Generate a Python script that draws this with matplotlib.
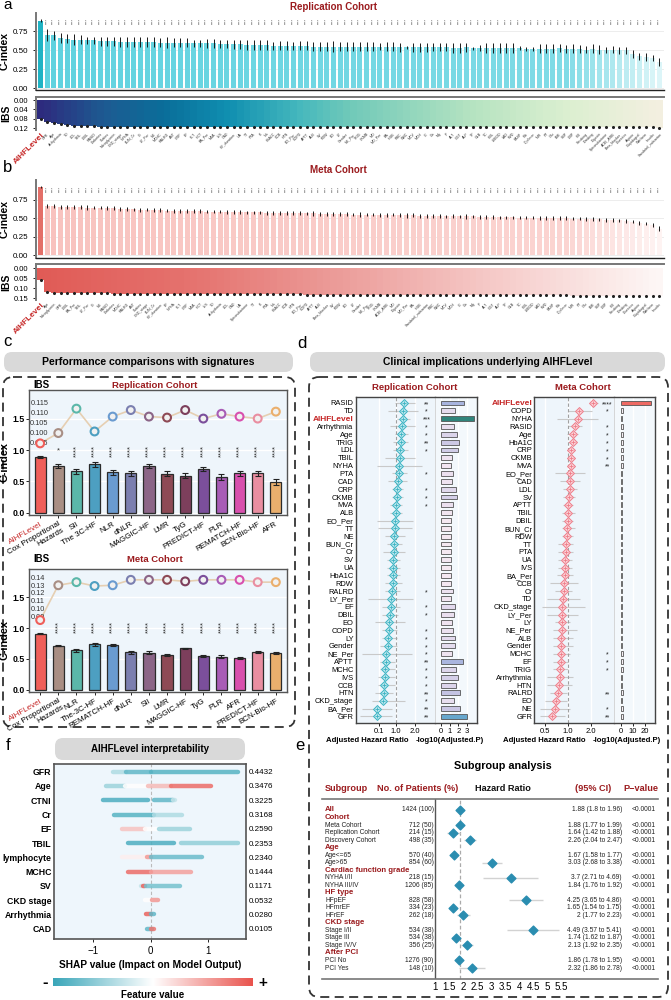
import numpy as np
import matplotlib
matplotlib.use("Agg")
import matplotlib.pyplot as plt
from matplotlib.colors import LinearSegmentedColormap
from matplotlib.patches import FancyBboxPatch

plt.rcParams['font.family'] = ['Liberation Sans', 'DejaVu Sans']
plt.rcParams['xtick.major.size'] = 2
plt.rcParams['ytick.major.size'] = 2
plt.rcParams['xtick.major.width'] = 0.6
plt.rcParams['ytick.major.width'] = 0.6
plt.rcParams['axes.unicode_minus'] = True

W, H = 671, 1000
DARKRED = '#9b1b1e'
AIHF_RED = '#c62828'

############################
## data: panels a and b   ##
############################
labels_a = ["AIHFLevel",
  "GFR","Age","Arrhythmia","TD","LDL","TBIL","DBIL","RASID","Diabetes","Statins",
  "Nitroglycerin","CKD_stage","NYHA","BUN_Cr","Cr","LY_Per","NE","MCHC","RALRD","AST",
  "CRP","EF","PLT","HCT","BA_Per","MVA","IVS","CAD","HF_duration","UA",
  "TT","PTA","K","Na","HbA1C","CCB","HTN","EO_Per","COPD","APTT",
  "ALB","SV","RDW","EO","LY","Gender","NE_Per","TRIG","CKMB","MO",
  "MO_Per","BA","HGB","RBC","WBC","MCV","MCH","Cl","Ca","Mg",
  "P","ALT","GGT","ALP","TP","GLB","TC","HDL","LVEDD","LAD",
  "RVD","PASP","Fib","D_dimer","INR","PT","Glu","BMI","SBP","DBP",
  "HR","Smoking","Drinking","Digoxin","Spironolactone","ACEI_ARB","Beta_blocker","Diuretics","Aspirin","Clopidogrel",
  "Warfarin","Insulin","Sacubitril_valsartan"]
cindex_a = [0.89, 0.70, 0.70, 0.66, 0.65, 0.64, 0.64, 0.63, 0.63, 0.62,
            0.62, 0.62, 0.61, 0.61, 0.61, 0.61, 0.61, 0.61, 0.60, 0.60,
            0.60, 0.60, 0.60, 0.59, 0.59, 0.59, 0.59, 0.58, 0.58, 0.58,
            0.58, 0.57, 0.57, 0.57, 0.57, 0.56, 0.56, 0.56, 0.56, 0.56,
            0.56, 0.55, 0.55, 0.55, 0.55, 0.55, 0.55, 0.55, 0.55, 0.55,
            0.55, 0.55, 0.55, 0.55, 0.54, 0.54, 0.54, 0.54, 0.54, 0.54,
            0.54, 0.54, 0.53, 0.53, 0.54, 0.53, 0.53, 0.53, 0.53, 0.53,
            0.53, 0.53, 0.53, 0.52, 0.52, 0.52, 0.52, 0.52, 0.53, 0.52,
            0.52, 0.52, 0.51, 0.52, 0.51, 0.51, 0.51, 0.50, 0.50, 0.45,
            0.42, 0.41, 0.40, 0.35]
err_a = [0.02, 0.08, 0.06, 0.07, 0.06, 0.07, 0.06, 0.05, 0.05, 0.06,
         0.06, 0.06, 0.07, 0.07, 0.07, 0.06, 0.06, 0.06, 0.06, 0.07,
         0.06, 0.06, 0.06, 0.05, 0.05, 0.06, 0.06, 0.05, 0.05, 0.06,
         0.06, 0.06, 0.06, 0.06, 0.06, 0.05, 0.06, 0.06, 0.05, 0.06,
         0.06, 0.06, 0.06, 0.06, 0.07, 0.06, 0.06, 0.06, 0.06, 0.06,
         0.06, 0.05, 0.06, 0.06, 0.06, 0.02, 0.06, 0.06, 0.06, 0.05,
         0.05, 0.05, 0.06, 0.06, 0.06, 0.02, 0.04, 0.06, 0.06, 0.06,
         0.06, 0.06, 0.03, 0.03, 0.03, 0.06, 0.06, 0.06, 0.05, 0.05,
         0.06, 0.05, 0.05, 0.06, 0.06, 0.04, 0.05, 0.05, 0.05, 0.05,
         0.05, 0.05, 0.04, 0.05]
ibs_a = [0.082, 0.092, 0.096, 0.102, 0.106, 0.109, 0.110, 0.112, 0.112, 0.113,
         0.113, 0.113, 0.113, 0.113, 0.113, 0.114, 0.114, 0.114, 0.114, 0.114,
         0.114, 0.114, 0.114, 0.114, 0.114, 0.114, 0.114, 0.115, 0.115, 0.115,
         0.115, 0.115, 0.115, 0.115, 0.115, 0.115, 0.115, 0.115, 0.115, 0.115,
         0.115, 0.115, 0.115, 0.115, 0.115, 0.115, 0.115, 0.115, 0.115, 0.115,
         0.115, 0.115, 0.115, 0.115, 0.115, 0.115, 0.115, 0.116, 0.116, 0.116,
         0.116, 0.116, 0.116, 0.116, 0.116, 0.116, 0.116, 0.116, 0.116, 0.116,
         0.116, 0.116, 0.116, 0.116, 0.116, 0.116, 0.116, 0.116, 0.116, 0.116,
         0.116, 0.116, 0.116, 0.116, 0.116, 0.116, 0.116, 0.116, 0.116, 0.116,
         0.116, 0.116, 0.116, 0.117]

labels_b = ["AIHFLevel",
  "Age","Nitroglycerin","GFR","DBIL","BA_Per","TBIL","LY_Per","Cr","NE","RASID",
  "Diabetes","MCHC","RALRD","AST","Statins","CKD_stage","BUN_Cr","HF_duration","EF","NYHA",
  "PLT","CRP","MVA","HCT","IVS","TD","Arrhythmia","LDL","CAD","UA",
  "Spironolactone","TT","K","PTA","Na","HbA1C","CCB","HTN","EO_Per","COPD",
  "APTT","ALB","Beta_blocker","SV","RDW","EO","LY","Gender","NE_Per","TRIG",
  "CKMB","ACEI_ARB","MO","Digoxin","MO_Per","BA","HGB","Sacubitril_valsartan","RBC","WBC",
  "MCV","MCH","Cl","Ca","Mg","P","ALT","GGT","ALP","TP",
  "GLB","TC","HDL","LVEDD","LAD","RVD","PASP","Fib","D_dimer","INR",
  "PT","Glu","BMI","SBP","DBP","HR","Smoking","Drinking","Diuretics","Aspirin",
  "Clopidogrel","Warfarin","Insulin"]
cindex_b = [0.92, 0.67, 0.67, 0.655, 0.655, 0.65, 0.65, 0.645, 0.645, 0.645,
            0.64, 0.635, 0.63, 0.63, 0.62, 0.615, 0.615, 0.61, 0.61, 0.605,
            0.60, 0.60, 0.60, 0.595, 0.595, 0.59, 0.59, 0.59, 0.585, 0.585,
            0.585, 0.58, 0.58, 0.58, 0.575, 0.575, 0.575, 0.57, 0.57, 0.57,
            0.565, 0.565, 0.56, 0.56, 0.56, 0.555, 0.555, 0.55, 0.55, 0.55,
            0.55, 0.545, 0.545, 0.545, 0.54, 0.54, 0.54, 0.535, 0.535, 0.535,
            0.53, 0.53, 0.53, 0.525, 0.525, 0.525, 0.52, 0.52, 0.52, 0.515,
            0.515, 0.515, 0.51, 0.51, 0.51, 0.505, 0.505, 0.50, 0.50, 0.50,
            0.495, 0.495, 0.49, 0.49, 0.485, 0.48, 0.475, 0.47, 0.465, 0.455,
            0.44, 0.427, 0.41, 0.36]
err_b = [0.015, 0.03, 0.025, 0.025, 0.025, 0.025, 0.025, 0.03, 0.025, 0.025,
         0.025, 0.025, 0.025, 0.025, 0.025, 0.025, 0.02, 0.03, 0.025, 0.025,
         0.025, 0.025, 0.025, 0.025, 0.03, 0.025, 0.025, 0.025, 0.025, 0.025,
         0.025, 0.025, 0.025, 0.025, 0.03, 0.025, 0.025, 0.025, 0.025, 0.025,
         0.025, 0.03, 0.025, 0.025, 0.025, 0.025, 0.025, 0.025, 0.03, 0.025,
         0.025, 0.025, 0.025, 0.02, 0.025, 0.03, 0.025, 0.025, 0.025, 0.025,
         0.025, 0.02, 0.025, 0.025, 0.03, 0.025, 0.025, 0.025, 0.025, 0.02,
         0.02, 0.02, 0.025, 0.015, 0.025, 0.025, 0.03, 0.03, 0.025, 0.025,
         0.025, 0.025, 0.03, 0.025, 0.025, 0.025, 0.025, 0.025, 0.025, 0.025,
         0.025, 0.025, 0.025, 0.03]
ibs_b = [0.058, 0.118, 0.121, 0.122, 0.123, 0.124, 0.124, 0.125, 0.125, 0.125,
         0.125, 0.126, 0.126, 0.126, 0.126, 0.126, 0.127, 0.127, 0.127, 0.127,
         0.127, 0.127, 0.128, 0.128, 0.128, 0.128, 0.128, 0.128, 0.129, 0.129,
         0.129, 0.129, 0.129, 0.129, 0.130, 0.130, 0.130, 0.130, 0.130, 0.130,
         0.131, 0.131, 0.131, 0.131, 0.131, 0.131, 0.132, 0.132, 0.132, 0.132,
         0.132, 0.132, 0.132, 0.133, 0.133, 0.133, 0.133, 0.133, 0.133, 0.133,
         0.134, 0.134, 0.134, 0.134, 0.134, 0.134, 0.134, 0.134, 0.135, 0.135,
         0.135, 0.135, 0.135, 0.135, 0.135, 0.135, 0.135, 0.135, 0.135, 0.135,
         0.136, 0.136, 0.136, 0.136, 0.136, 0.136, 0.136, 0.136, 0.136, 0.136,
         0.136, 0.136, 0.136, 0.136]

############################
## data: panel c          ##
############################
sig_rep = ["AIHFLevel", "Cox Proportional\nHazards", "SII", "The 3C-HF", "NLR", "dNLR", "MAGGIC-HF",
           "LMR", "TyG", "PREDICT-HF", "PLR", "REMATCH-HF", "BCN-Bio-HF", "AFR"]
cidx_rep = [0.895, 0.747, 0.663, 0.774, 0.642, 0.632, 0.742, 0.621, 0.589, 0.695, 0.568, 0.632, 0.626, 0.484]
cerr_rep = [0.015, 0.03, 0.04, 0.04, 0.04, 0.04, 0.035, 0.04, 0.04, 0.035, 0.045, 0.04, 0.045, 0.045]
cibs_rep = [0.0945, 0.0997, 0.112, 0.1005, 0.108, 0.1113, 0.108, 0.1075, 0.1113, 0.107, 0.1094, 0.108, 0.107, 0.1105]
stars_rep = ["", "*", "****", "****", "****", "****", "****", "****", "****", "****", "****", "****", "****", "****"]

sig_meta = ["AIHFLevel", "Cox Proportional\nHazards", "NLR", "The-3C-HF", "REMATCH-HF", "dNLR", "SII",
            "LMR", "MAGGIC-HF", "TyG", "PLR", "AFR", "PREDICT-HF", "BCN-Bio-HF"]
cidx_meta = [0.91, 0.715, 0.636, 0.736, 0.726, 0.605, 0.60, 0.563, 0.668, 0.542, 0.537, 0.51, 0.61, 0.594]
cerr_meta = [0.01, 0.015, 0.02, 0.02, 0.02, 0.02, 0.02, 0.02, 0.015, 0.02, 0.02, 0.02, 0.015, 0.015]
cibs_meta = [0.085, 0.130, 0.134, 0.129, 0.130, 0.137, 0.137, 0.137, 0.135, 0.137, 0.137, 0.137, 0.134, 0.134]
stars_meta = ["", "****", "****", "****", "****", "****", "****", "****", "****", "****", "****", "****", "****", "****"]

sig_colors = ['#ef5f5a', '#a88e84', '#5bb7a9', '#4d9fc1', '#6a9bd0', '#7b7fb0', '#8b6587',
              '#8e4a55', '#7d3f5c', '#7b4f9b', '#a85cb6', '#d850ae', '#e98ea1', '#eaaf6d']

############################
## data: panel d          ##
############################
rep_vars = ["RASID","TD","AIHFLevel","Arrhythmia","Age","TRIG","LDL","TBIL","NYHA","PTA",
            "CAD","CRP","CKMB","MVA","ALB","EO_Per","TT","NE","BUN_Cr","Cr",
            "SV","UA","HbA1C","RDW","RALRD","LY_Per","EF","DBIL","EO","COPD",
            "LY","Gender","NE_Per","APTT","MCHC","IVS","CCB","HTN","CKD_stage","BA_Per",
            "GFR"]
rep_hr = [1.46, 1.40, 1.40, 1.32, 1.28, 1.26, 1.25, 1.23, 1.19, 1.18,
          1.10, 1.09, 1.07, 1.02, 1.00, 0.98, 0.96, 0.93, 0.89, 0.89,
          0.88, 0.88, 0.88, 0.86, 0.79, 0.75, 0.74, 0.68, 0.67, 0.65,
          0.61, 0.58, 0.49, 0.47, 0.46, 0.44, 0.40, 0.37, 0.32, 0.03,
          0.01]
rep_lo = [0.965, 0.614, 1.05, 0.70, 0.965, 0.877, 0.877, 0.44, 0.0, 0.79,
          0.614, 0.79, 0.79, 0.70, 0.70, 0.0, 0.088, 0.44, 0.526, 0.35,
          0.526, 0.526, 0.526, 0.44, 0.44, -0.44, 0.263, 0.263, -0.088, 0.263,
          0.263, 0.175, -0.79, 0.175, 0.175, 0.088, 0.088, -0.088, -0.26, -0.79,
          -0.877]
rep_hi = [2.02, 2.19, 1.754, 2.02, 1.667, 1.667, 1.63, 2.02, 2.37, 1.58,
          1.58, 1.40, 1.40, 1.316, 1.316, 1.93, 1.842, 1.49, 1.316, 1.49,
          1.228, 1.228, 1.228, 1.316, 1.228, 1.93, 1.228, 1.14, 1.49, 1.05,
          1.05, 1.05, 1.842, 0.965, 0.965, 0.965, 0.965, 0.877, 1.5, 0.79,
          0.79]
rep_stars = ["**","*","***","*","*","**","*","","","*",
             "","*","*","*","","","","","","",
             "","","","","*","","*","*","","*",
             "*","*","*","**","*","*","*","**","*","**",
             "**"]
rep_logp = [2.6, 1.6, 3.8, 1.5, 1.8, 2.1, 2.0, 1.3, 1.2, 1.4,
            1.3, 1.7, 1.9, 1.4, 1.23, 1.1, 1.1, 1.1, 1.1, 1.1,
            1.15, 1.1, 1.1, 1.1, 1.35, 1.2, 1.65, 1.46, 1.3, 1.42,
            1.65, 1.6, 1.3, 2.58, 1.77, 1.92, 1.77, 2.23, 1.5, 2.15,
            3.0]

meta_vars = ["AIHFLevel","COPD","NYHA","RASID","Age","HbA1C","CRP","CKMB","MVA","EO_Per",
             "CAD","LDL","SV","APTT","TBIL","DBIL","BUN_Cr","RDW","TT","PTA",
             "UA","IVS","BA_Per","CCB","Cr","TD","CKD_stage","LY_Per","LY","NE_Per",
             "ALB","Gender","MCHC","EF","TRIG","Arrhythmia","HTN","RALRD","EO","NE",
             "GFR"]
meta_hr = [2.14, 1.39, 1.34, 1.23, 1.15, 1.15, 1.08, 1.08, 1.08, 1.06,
           1.05, 1.05, 1.04, 1.01, 1.00, 0.99, 0.98, 0.98, 0.94, 0.94,
           0.91, 0.905, 0.905, 0.89, 0.88, 0.87, 0.84, 0.83, 0.83, 0.83,
           0.82, 0.82, 0.81, 0.80, 0.79, 0.78, 0.77, 0.73, 0.70, 0.68,
           0.61]
meta_lo = [1.90, 1.01, 0.71, 1.01, 0.96, 1.01, 0.96, 0.96, 0.96, 0.68,
           0.79, 0.87, 0.87, 0.87, 0.826, 0.826, 0.826, 0.826, 0.747, 0.747,
           0.747, 0.747, 0.71, 0.58, 0.676, 0.526, 0.45, 0.526, 0.676, 0.64,
           0.64, 0.64, 0.64, 0.64, 0.64, 0.526, 0.526, 0.58, 0.50, 0.43,
           0.43]
meta_hi = [2.49, 2.04, 2.49, 1.51, 1.36, 1.30, 1.23, 1.23, 1.23, 1.67,
           1.43, 1.30, 1.23, 1.17, 1.23, 1.17, 1.23, 1.17, 1.17, 1.17,
           1.12, 1.12, 1.17, 1.36, 1.12, 1.43, 1.67, 1.36, 1.06, 1.30,
           1.17, 1.17, 1.06, 1.01, 1.01, 1.17, 1.12, 0.96, 0.96, 1.06,
           0.91]
meta_stars = ["****","*","","*","*","*","*","*","**","",
              "","","","","","","","","","",
              "","","","","","","","","","",
              "","","*","*","*","","","**","","*",
              "**"]
meta_logp = [25, 1.8, 0.8, 1.8, 1.7, 1.7, 1.7, 1.7, 2.2, 0.7,
             0.7, 0.7, 0.7, 0.7, 0.7, 0.7, 0.7, 0.7, 0.7, 0.7,
             0.7, 0.7, 0.7, 0.7, 0.7, 0.7, 0.7, 0.7, 0.7, 0.7,
             0.7, 0.7, 1.6, 1.6, 1.6, 0.7, 0.7, 2.2, 0.8, 1.8,
             2.2]

############################
## data: panel e          ##
############################
sub_labels = ["All", "Cohort", "Meta Cohort", "Replication Cohort", "Discovery Cohort",
              "Age", "Age<=65", "Age>65", "Cardiac function grade", "NYHA I/II", "NYHA III/IV",
              "HF type", "HFpEF", "HFmrEF", "HFrEF", "CKD stage", "Stage I/II", "Stage III",
              "Stage IV/V", "After PCI", "PCI No", "PCI Yes"]
sub_header = [True, True, False, False, False, True, False, False, True, False, False,
              True, False, False, False, True, False, False, False, True, False, False]
sub_n = ["1424 (100)", "", "712 (50)", "214 (15)", "498 (35)", "", "570 (40)", "854 (60)", "",
         "218 (15)", "1206 (85)", "", "828 (58)", "334 (23)", "262 (18)", "", "534 (38)",
         "534 (38)", "356 (25)", "", "1276 (90)", "148 (10)"]
nan = float('nan')
sub_hr = [1.88, nan, 1.88, 1.64, 2.26, nan, 1.67, 3.03, nan, 3.7, 1.84, nan, 4.25, 1.65, 2.0,
          nan, 4.49, 1.74, 2.13, nan, 1.86, 2.32]
sub_lo = [1.8, nan, 1.77, 1.42, 2.04, nan, 1.58, 2.68, nan, 2.71, 1.76, nan, 3.65, 1.54, 1.77,
          nan, 3.57, 1.62, 1.92, nan, 1.78, 1.86]
sub_hi = [1.96, nan, 1.99, 1.88, 2.47, nan, 1.77, 3.38, nan, 4.69, 1.92, nan, 4.86, 1.75, 2.23,
          nan, 5.41, 1.87, 2.35, nan, 1.95, 2.78]
sub_ticks = [1, 1.5, 2, 2.5, 3, 3.5, 4, 4.5, 5, 5.5]

############################
## data: panel f          ##
############################
shap_features = ["GFR", "Age", "CTNI", "Cr", "EF", "TBIL", "lymphocyte", "MCHC", "SV",
                 "CKD stage", "Arrhythmia", "CAD"]
shap_importance = ["0.4432", "0.3476", "0.3225", "0.3168", "0.2590", "0.2353", "0.2340",
                   "0.1444", "0.1171", "0.0532", "0.0280", "0.0105"]
# streaks of points per feature: row, start, end, feature value (-1 low .. +1 high)
shap_row = [0, 0, 0, 1, 1, 1, 1, 2, 2, 2, 3, 3, 4, 4, 4, 5, 5, 6, 6, 6, 7, 7, 8, 8, 8, 9, 9, 10, 10, 11, 11]
shap_x0 = [-0.65, -0.42, 0.0, -0.77, -0.45, -0.05, 0.35, -0.82, 0.05, 0.38, -0.64, 0.05,
           -0.50, -0.10, 0.15, -0.39, 0.52, -0.50, -0.06, 0.0, -0.39, 0.0, -0.16, -0.14, -0.08,
           -0.10, 0.02, -0.08, 0.0, -0.07, 0.0]
shap_x1 = [-0.42, 0.0, 1.52, -0.45, -0.05, 0.35, 1.04, -0.04, 0.38, 0.42, 0.05, 0.55,
           -0.10, 0.15, 0.68, 0.40, 1.52, -0.06, 0.0, 0.88, 0.0, 0.70, -0.10, -0.10, 0.50,
           0.0, 0.12, 0.0, 0.06, 0.02, 0.05]
shap_val = [-0.4, -0.8, -0.85, -0.5, 0.0, 0.4, 0.85, -0.9, -0.8, -0.3, -0.85, -0.4,
            0.35, 0.0, -0.5, -0.9, -0.55, 0.1, 0.6, -0.75, 0.85, 0.55, -0.3, 0.9, -0.7,
            0.0, 0.6, 0.9, -0.8, -0.8, 0.8]


fig = plt.figure(figsize=(6.71, 10), dpi=100)


def px_axes(x0, y0, x1, y1):
  return fig.add_axes([x0 / W, 1 - y1 / H, (x1 - x0) / W, (y1 - y0) / H])


# background layer in pixel units for boxes, headers and free text
bg = fig.add_axes([0, 0, 1, 1])
bg.set_xlim(0, W)
bg.set_ylim(H, 0)
bg.axis('off')


def header(x, y, w, h, text, size):
  bg.add_patch(FancyBboxPatch((x, y), w, h, boxstyle='round,pad=0,rounding_size=8',
                              fc='#d9d9d9', ec='none'))
  bg.text(x + w / 2, y + h / 2, text, ha='center', va='center', fontsize=size, fontweight='bold')


def dashed_box(x, y, w, h):
  bg.add_patch(FancyBboxPatch((x, y), w, h, boxstyle='round,pad=0,rounding_size=10',
                              fill=False, ec='#333333', lw=1.3, ls=(0, (5, 3))))


#######################################
## a / b : all variables per cohort  ##
#######################################
def cohort_panel(ax_c, ax_i, names, cidx, err, ibs, first_color, bar_cmap, ibs_cmap,
                 c_lim, i_lim, i_ticks, i_labels, star_y):
  n = len(cidx)
  x = np.arange(n)
  cols = [first_color] + [bar_cmap(i / (n - 1)) for i in range(1, n)]
  ax_c.grid(axis='y', color='#e6e6e6', lw=0.5)
  ax_c.set_axisbelow(True)
  ax_c.bar(x, cidx, width=0.75, color=cols, zorder=2)
  ax_c.errorbar(x, cidx, yerr=err, fmt='none', ecolor='#1a1a1a', elinewidth=0.7, zorder=3)
  for xi in x[1:]:
    ax_c.text(xi, star_y, '****', rotation=90, ha='center', va='center', fontsize=2.8, color='#444444')
  ax_c.set_xlim(-0.7, n - 0.3)
  ax_c.set_ylim(*c_lim)
  ax_c.set_yticks([0, 0.25, 0.5, 0.75])
  ax_c.set_yticklabels(['0.00', '0.25', '0.50', '0.75'], fontsize=5.8)
  ax_c.set_xticks([])
  ax_c.set_ylabel('C-index', fontsize=7.5, fontweight='bold', labelpad=2)
  for s in ['top', 'right']:
    ax_c.spines[s].set_visible(False)
  ax_c.spines['left'].set_color('#777777')
  ax_c.spines['left'].set_linewidth(1.4)
  ax_c.spines['bottom'].set_color('#222222')
  ax_c.spines['bottom'].set_linewidth(1.0)

  ax_i.bar(x, ibs, width=1.0, color=[ibs_cmap(i / (n - 1)) for i in x], linewidth=0)
  ax_i.scatter(x, ibs, s=1.5, color='#222222', zorder=3)
  ax_i.set_xlim(-0.7, n - 0.3)
  ax_i.set_ylim(*i_lim)
  ax_i.set_yticks(i_ticks)
  ax_i.set_yticklabels(i_labels, fontsize=5.5)
  ax_i.set_ylabel('IBS', fontsize=7.5, fontweight='bold', labelpad=2)
  ax_i.set_xticks(x)
  ax_i.set_xticklabels(names, rotation=45, ha='right', rotation_mode='anchor', fontsize=2.6, color='#333333')
  ax_i.tick_params(axis='x', length=0, pad=1.5)
  lb = ax_i.get_xticklabels()[0]
  lb.set_color(AIHF_RED)
  lb.set_fontsize(6)
  lb.set_fontweight('bold')
  for s in ['bottom', 'right']:
    ax_i.spines[s].set_visible(False)
  for s in ['top', 'left']:
    ax_i.spines[s].set_color('#777777')
    ax_i.spines[s].set_linewidth(1.4)


teal_bars = LinearSegmentedColormap.from_list('tb', [(0, '#5fd2df'), (0.85, '#80dbe6'), (1, '#dcf5f8')])
ibs_teal = LinearSegmentedColormap.from_list('it', [(0, '#2d2b7e'), (0.1, '#1d5a91'), (0.2, '#0a6e9a'),
                                                    (0.3, '#0f8eb0'), (0.42, '#46b8bd'), (0.5, '#70c9b9'),
                                                    (0.7, '#b6e3c1'), (0.85, '#dbefd0'), (1, '#f3efe0')])
pink_bars = LinearSegmentedColormap.from_list('pb', [(0, '#f8c2be'), (0.85, '#fbd4d1'), (1, '#fef3f2')])
ibs_red = LinearSegmentedColormap.from_list('ir', [(0, '#e05b56'), (0.25, '#e5736f'), (0.47, '#eb9a97'),
                                                   (0.75, '#f6cdcb'), (1, '#fdf6f5')])

ax_ca = px_axes(36, 13, 664, 90)
ax_ia = px_axes(36, 97, 664, 130)
cohort_panel(ax_ca, ax_ia, labels_a, cindex_a, err_a, ibs_a, '#1fb3c4', teal_bars, ibs_teal,
             (-0.02, 0.99), (0.127, -0.013), [0, 0.04, 0.08, 0.12], ['0.00', '0.04', '0.08', '0.12'], 0.885)
ax_cb = px_axes(36, 180, 664, 258)
ax_ib = px_axes(36, 264, 664, 300)
cohort_panel(ax_cb, ax_ib, labels_b, cindex_b, err_b, ibs_b, '#e36f68', pink_bars, ibs_red,
             (-0.04, 1.02), (0.158, -0.02), [0, 0.05, 0.10, 0.15], ['0.00', '0.05', '0.10', '0.15'], 0.90)

bg.text(3, 5, 'a', fontsize=11, va='center')
bg.text(333, 7, 'Replication Cohort', ha='center', va='center', fontsize=7, fontweight='bold', color=DARKRED)
bg.text(3, 167, 'b', fontsize=12, va='center')
bg.text(338, 170, 'Meta Cohort', ha='center', va='center', fontsize=7, fontweight='bold', color=DARKRED)


#######################################
## c : comparisons with signatures   ##
#######################################
def signature_panel(ax, names, cidx, err, ibs, stars, ibs_lim, ibs_ticks, ibs_labels, ibs_pad, star_y):
  x = np.arange(len(names))
  ax.set_facecolor('#eef5fb')
  ax.grid(axis='y', color='white', lw=1.0)
  ax.set_axisbelow(True)
  ax.bar(x, cidx, width=0.62, color=sig_colors, edgecolor='#2b2b2b', linewidth=0.9, zorder=2)
  ax.errorbar(x, cidx, yerr=err, fmt='none', ecolor='#222222', elinewidth=0.8, capsize=2.3,
              capthick=0.8, zorder=3)
  for xi, s in zip(x, stars):
    if s:
      ax.text(xi, star_y, s, rotation=90 if len(s) > 1 else 0, ha='center', va='center',
              fontsize=5.5, color='#333333')
  ax.set_xlim(-0.6, len(names) - 0.4)
  ax.set_ylim(-0.04, 1.96)
  ax.set_yticks([0, 0.5, 1.0, 1.5])
  ax.set_yticklabels(['0.0', '0.5', '1.0', '1.5'], fontsize=6.3, fontweight='bold')
  ax.tick_params(axis='y', pad=1.5)
  ax.set_ylabel('C-index', fontsize=7.8, fontweight='bold')
  ax.yaxis.set_label_coords(-0.078, 0.42)
  ax.set_xticks(x)
  ax.set_xticklabels(names, rotation=30, ha='right', rotation_mode='anchor', fontsize=5.8,
                     linespacing=0.95)
  ax.tick_params(axis='x', length=2, pad=2)
  ax.get_xticklabels()[0].set_color(AIHF_RED)
  for s in ax.spines.values():
    s.set_color('#555555')
    s.set_linewidth(1.0)
  ax2 = ax.twinx()
  ax2.plot(x, ibs, color='#e6cfb2', lw=1.2, zorder=1)
  ax2.scatter(x, ibs, s=32, facecolor='#f1f1f1', edgecolor=sig_colors, linewidth=1.5, zorder=3)
  ax2.set_ylim(*ibs_lim)
  ax2.set_yticks(ibs_ticks)
  ax2.set_yticklabels(ibs_labels)
  ax2.yaxis.tick_left()
  ax2.tick_params(axis='y', length=0, pad=-ibs_pad, labelsize=5.3, labelcolor='#333333')
  for s in ax2.spines.values():
    s.set_visible(False)


dashed_box(3, 377, 292, 350)
header(4, 352, 289, 20, 'Performance comparisons with signatures', 7.6)
bg.text(3, 342, 'c', fontsize=12, va='center')

ax_sr = px_axes(29.3, 390, 286.7, 515)
signature_panel(ax_sr, sig_rep, cidx_rep, cerr_rep, cibs_rep, stars_rep, (0.0584, 0.1214),
                [0.095, 0.100, 0.105, 0.110, 0.115], ['0.095', '0.100', '0.105', '0.110', '0.115'], 13.8, 0.98)
bg.text(41, 385, 'IBS', ha='center', va='center', fontsize=7, fontweight='bold')
bg.text(155, 385, 'Replication Cohort', ha='center', va='center', fontsize=6.8, fontweight='bold', color=DARKRED)

ax_sm = px_axes(29.3, 569, 286.7, 692)
signature_panel(ax_sm, sig_meta, cidx_meta, cerr_meta, cibs_meta, stars_meta, (-0.008, 0.151),
                [0.09, 0.10, 0.11, 0.12, 0.13, 0.14], ['0.09', '0.10', '0.11', '0.12', '0.13', '0.14'], 11.3, 1.01)
bg.text(41, 559, 'IBS', ha='center', va='center', fontsize=7, fontweight='bold')
bg.text(155, 559, 'Meta Cohort', ha='center', va='center', fontsize=6.8, fontweight='bold', color=DARKRED)


#######################################
## d : clinical implications         ##
#######################################
logp_cmap = LinearSegmentedColormap.from_list('lp', [(0, '#f8eaf2'), (0.2, '#e6dcee'), (0.4, '#c9c6e4'),
                                                     (0.55, '#a9b4de'), (0.65, '#86a8da'),
                                                     (0.75, '#3aa6ba'), (1, '#2e7f72')])


def forest_panel(ax_f, ax_b, names, hr, lo, hi, stars, logp, dcolor, dfill, fx_lim, fx_ticks,
                 fx_labels, star_x, bx_lim, bx_ticks, bar_colors, log_x):
  y = np.arange(len(names))
  ax_f.set_facecolor('#eef5fb')
  ax_b.set_facecolor('#f3f8fc')
  if log_x:
    ax_f.set_xscale('log')
  for t in fx_ticks:
    ax_f.axvline(t, color='white', lw=1.0, zorder=0)
  ax_f.hlines(y, lo, hi, color='#c9c9c9', lw=0.8, zorder=1)
  ax_f.axvline(1, color='#a0a0a0', lw=0.8, ls=(0, (3, 2)), zorder=1)
  ax_f.scatter(hr, y, marker='D', s=16, facecolor=dfill, edgecolor=dcolor, linewidth=0.7, zorder=3)
  ax_f.scatter(hr, y, marker='+', s=10, color=dcolor, linewidth=0.6, zorder=4)
  for yi, s in zip(y, stars):
    if s:
      ax_f.text(star_x, yi + 0.2, s, ha='center', va='center', fontsize=5, color='#222222')
  ax_f.set_xlim(*fx_lim)
  ax_f.set_ylim(len(names) - 0.2, -0.8)
  ax_f.set_xticks(fx_ticks)
  ax_f.set_xticklabels(fx_labels, fontsize=5.5)
  ax_f.minorticks_off()
  ax_f.set_yticks(y)
  ax_f.set_yticklabels(names, fontsize=5.4)
  ax_f.tick_params(axis='y', length=0, pad=1.5)
  ax_f.tick_params(axis='x', length=2, pad=1.5)
  for lb in ax_f.get_yticklabels():
    if lb.get_text() == 'AIHFLevel':
      lb.set_color(AIHF_RED)
      lb.set_fontweight('bold')
      lb.set_fontsize(6)
  for t in bx_ticks:
    ax_b.axvline(t, color='white', lw=1.0, zorder=0)
  ax_b.barh(y, logp, height=0.62, color=bar_colors, edgecolor='#555555', linewidth=0.6, zorder=2)
  ax_b.set_xlim(*bx_lim)
  ax_b.set_ylim(len(names) - 0.2, -0.8)
  ax_b.set_xticks(bx_ticks)
  ax_b.set_xticklabels([str(t) for t in bx_ticks], fontsize=5.5)
  ax_b.set_yticks([])
  ax_b.tick_params(axis='x', length=2, pad=1.5)
  for a in (ax_f, ax_b):
    for s in a.spines.values():
      s.set_color('#444444')
      s.set_linewidth(1.0)
  ax_f.spines['right'].set_visible(False)
  ax_b.spines['left'].set_color('#d0d0d0')
  ax_b.spines['left'].set_linewidth(0.6)


dashed_box(309, 377, 359, 620)
header(310, 352, 355, 20, 'Clinical implications underlying AIHFLevel', 7.4)
bg.text(302, 343, 'd', fontsize=12, va='center', ha='center')

ax_rf = px_axes(355.7, 396.7, 435, 722.7)
ax_rb = px_axes(435, 396.7, 476.7, 722.7)
rep_bar_colors = [logp_cmap((v - 1.0) / 2.9) for v in rep_logp]
forest_panel(ax_rf, ax_rb, rep_vars, rep_hr, rep_lo, rep_hi, rep_stars, rep_logp, '#3bb3c3', '#bfe8ee',
             (-1.1, 3.07), [0.1, 1.0, 2.0], ['0.1', '1.0', '2.0'], 2.63,
             (-0.69, 4.12), [0, 1, 2, 3], rep_bar_colors, False)
bg.text(415, 388, 'Replication Cohort', ha='center', va='center', fontsize=6.8, fontweight='bold', color=DARKRED)

ax_mf = px_axes(534.3, 396.7, 614, 722.7)
ax_mb = px_axes(614, 396.7, 655, 722.7)
meta_bar_colors = ['#ee6a64'] + ['#f7f0f5'] * (len(meta_logp) - 1)
forest_panel(ax_mf, ax_mb, meta_vars, meta_hr, meta_lo, meta_hi, meta_stars, meta_logp, '#ee7d8a', '#fbd3d8',
             (0.362, 4.0), [0.5, 1.0, 2.0], ['0.5', '1.0', '2.0'], 3.3,
             (-5.6, 28.6), [0, 10, 20], meta_bar_colors, True)
bg.text(583, 388, 'Meta Cohort', ha='center', va='center', fontsize=6.8, fontweight='bold', color=DARKRED)

for xc, t in [(367, 'Adjusted Hazard Ratio'), (450, '-log10(Adjusted.P)'),
              (544, 'Adjusted Hazard Ratio'), (627, '-log10(Adjusted.P)')]:
  bg.text(xc, 740, t, ha='center', va='center', fontsize=5.6, fontweight='bold')


#######################################
## e : subgroup analysis             ##
#######################################
bg.text(300, 745, 'e', fontsize=12, ha='center', va='center',
        bbox=dict(fc='white', ec='none', pad=0.3))
bg.text(503, 766, 'Subgroup analysis', ha='center', va='center', fontsize=7.8, fontweight='bold')

ax_e = px_axes(322, 799, 658, 979)
rows = np.arange(len(sub_labels))
ax_e.set_xlim(-3.04, 8.96)
ax_e.set_ylim(len(sub_labels) + 0.46, -1.46)
hr_arr = np.array(sub_hr)
ok = ~np.isnan(hr_arr)
ax_e.axvline(1, color='#555555', lw=1.0, zorder=1)
ax_e.axvline(1.88, color='#aaaaaa', lw=0.9, ls=(0, (3, 2)), zorder=1)
ax_e.hlines(rows[ok], np.array(sub_lo)[ok], np.array(sub_hi)[ok], color='#d2d2d2', lw=1.0, zorder=2)
ax_e.scatter(hr_arr[ok], rows[ok], marker='D', s=20, color='#2a8db0', zorder=3)
for r, lab, hd, n_txt, h, l, u in zip(rows, sub_labels, sub_header, sub_n, sub_hr, sub_lo, sub_hi):
  if hd or lab == 'All':
    ax_e.text(-2.93, r, lab, ha='left', va='center', fontsize=5.6, fontweight='bold', color=DARKRED)
  else:
    ax_e.text(-2.93, r, lab, ha='left', va='center', fontsize=4.8, color='#222222')
  if n_txt:
    ax_e.text(0.95, r, n_txt, ha='right', va='center', fontsize=4.8, color='#222222')
  if not np.isnan(h):
    ax_e.text(7.67, r, '{:g} ({:g} to {:g})'.format(h, l, u), ha='right', va='center',
              fontsize=4.8, color='#222222')
    ax_e.text(8.86, r, '<0.0001', ha='right', va='center', fontsize=4.8, color='#222222')
hy = -2.9
ax_e.text(-2.93, hy, 'Subgroup', ha='left', va='center', fontsize=6.6, fontweight='bold', color=DARKRED, clip_on=False)
ax_e.text(0.39, hy, 'No. of Patients (%)', ha='center', va='center', fontsize=6.6, fontweight='bold', color=DARKRED, clip_on=False)
ax_e.text(3.43, hy, 'Hazard Ratio', ha='center', va='center', fontsize=6.6, fontweight='bold', color='#111111', clip_on=False)
ax_e.text(6.63, hy, '(95% CI)', ha='center', va='center', fontsize=6.6, fontweight='bold', color=DARKRED, clip_on=False)
ax_e.text(8.36, hy, 'P\u2212value', ha='center', va='center', fontsize=6.6, fontweight='bold', color=DARKRED, clip_on=False)
ax_e.set_xticks(sub_ticks)
ax_e.set_xticklabels(['{:g}'.format(t) for t in sub_ticks], fontsize=7)
ax_e.tick_params(axis='x', length=0, pad=2)
ax_e.set_yticks([])
for s in ['left', 'right']:
  ax_e.spines[s].set_visible(False)
for s in ['top', 'bottom']:
  ax_e.spines[s].set_color('#777777')
  ax_e.spines[s].set_linewidth(1.2)


#######################################
## f : SHAP interpretability         ##
#######################################
bg.text(6, 745, 'f', fontsize=12, va='center')
header(55, 738, 190, 22, 'AIHFLevel interpretability', 7)
shap_cmap = LinearSegmentedColormap.from_list('shap', ['#3aa6b9', '#ffffff', '#e9534d'])

ax_s = px_axes(54.3, 764, 246, 939.3)
ax_s.set_facecolor('#eef6fc')
ax_s.axvline(0, color='#bbbbbb', lw=0.8, ls=(0, (3, 2)), zorder=1)
for r, a0, a1, v in zip(shap_row, shap_x0, shap_x1, shap_val):
  ax_s.plot([a0, a1], [r, r], color=shap_cmap((v + 1) / 2), lw=3.2, alpha=0.85,
            solid_capstyle='round', zorder=2)
ax_s.set_xlim(-1.67, 1.65)
ax_s.set_ylim(len(shap_features) - 0.26, -0.54)
ax_s.set_yticks(range(len(shap_features)))
ax_s.set_yticklabels(shap_features, fontsize=6.3, fontweight='bold')
ax_s.set_xticks([-1, 0, 1])
ax_s.set_xticklabels(['\u22121', '0', '1'], fontsize=7)
ax_s.tick_params(axis='y', length=0, pad=2)
ax_s.tick_params(axis='x', length=2.5, pad=2)
ax_s.set_xlabel('SHAP value (Impact on Model Output)', fontsize=7.3, fontweight='bold', labelpad=3)
for s in ax_s.spines.values():
  s.set_color('#555555')
  s.set_linewidth(1.2)
ax_sr2 = ax_s.twinx()
ax_sr2.set_ylim(ax_s.get_ylim())
ax_sr2.set_yticks(range(len(shap_features)))
ax_sr2.set_yticklabels(shap_importance, fontsize=5.8)
ax_sr2.tick_params(axis='y', length=0, pad=2)
for s in ax_sr2.spines.values():
  s.set_visible(False)

cax = px_axes(53, 978, 253, 986)
cax.imshow(np.linspace(0, 1, 256)[None, :], aspect='auto', cmap=shap_cmap)
cax.axis('off')
bg.text(45, 982, '-', fontsize=12, fontweight='bold', ha='center', va='center')
bg.text(263, 983, '+', fontsize=11, fontweight='bold', ha='center', va='center')
bg.text(153, 995, 'Feature value', fontsize=7, fontweight='bold', ha='center', va='center')

fig.savefig('out.png', dpi=100)
